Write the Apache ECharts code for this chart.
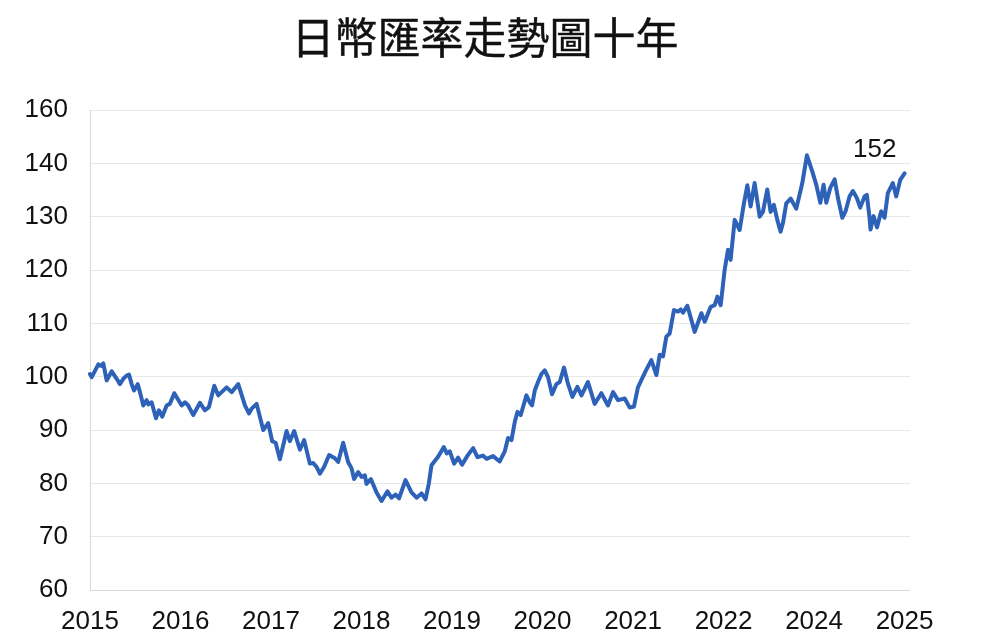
<!DOCTYPE html>
<html>
<head>
<meta charset="utf-8">
<script src="https://cdn.jsdelivr.net/npm/echarts@6/dist/echarts.min.js"></script>
<style>
html,body{margin:0;padding:0;background:#fff;}
#chart{width:994px;height:644px;}
</style>
</head>
<body>
<div id="chart"></div>
<script>
// ---- data ----
var titleText = '日幣匯率走勢圖十年';
var xTickLabels = ['2015','2016','2017','2018','2019','2020','2021','2022','2024','2025'];
var yTickLabels = ['60','70','80','90','100','110','120','130','140','160'];
var annotationText = '152';

// position along the x axis (0 = 2015 label, 9 = 2025 label)
var yearPos = [
0.000,0.019,0.092,0.129,0.147,0.184,0.240,0.295,0.331,0.368,0.405,0.431,0.460,0.486,0.527,0.552,0.589,0.626,0.644,0.681,
0.729,0.762,0.798,0.847,0.883,0.931,1.013,1.049,1.085,1.141,1.215,1.270,1.314,1.373,1.417,1.454,1.510,1.565,1.638,1.712,
1.756,1.786,1.841,1.914,1.969,2.013,2.051,2.098,2.172,2.208,2.256,2.319,2.366,2.429,2.466,2.503,2.540,2.587,2.642,2.705,
2.742,2.797,2.852,2.890,2.918,2.963,3.000,3.037,3.055,3.103,3.166,3.221,3.287,3.331,3.376,3.415,3.486,3.552,3.608,3.663,
3.707,3.743,3.773,3.846,3.909,3.942,3.975,4.023,4.067,4.111,4.171,4.233,4.281,4.343,4.381,4.453,4.527,4.583,4.619,4.657,
4.693,4.723,4.759,4.822,4.859,4.884,4.914,4.950,4.988,5.024,5.061,5.105,5.153,5.190,5.237,5.282,5.330,5.385,5.430,5.502,
5.576,5.650,5.723,5.779,5.834,5.908,5.963,6.010,6.054,6.110,6.147,6.202,6.258,6.294,6.331,6.368,6.405,6.452,6.496,6.526,
6.552,6.600,6.645,6.681,6.755,6.792,6.858,6.902,6.932,6.968,7.012,7.049,7.078,7.123,7.178,7.225,7.263,7.299,7.343,7.399,
7.435,7.483,7.520,7.556,7.594,7.630,7.656,7.693,7.741,7.804,7.870,7.921,7.980,8.024,8.069,8.105,8.135,8.179,8.227,8.264,
8.312,8.348,8.392,8.429,8.473,8.510,8.558,8.583,8.613,8.624,8.657,8.696,8.742,8.779,8.815,8.870,8.908,8.952,9.000
];
var rate = [
100.5,99.9,102.3,102.0,102.5,99.3,101.0,99.6,98.6,99.6,100.2,100.4,98.6,97.4,98.6,97.1,94.6,95.6,94.8,95.2,
92.2,93.7,92.5,94.6,94.9,96.9,94.6,95.2,94.6,92.8,95.1,93.7,94.3,98.3,96.5,97.1,98.0,97.1,98.6,94.6,
93.1,94.0,94.9,90.0,91.3,87.9,87.6,84.5,89.8,87.9,89.8,86.3,88.1,83.7,83.8,83.1,81.8,83.1,85.3,84.7,
84.0,87.6,84.0,82.8,80.8,82.1,81.2,81.5,79.9,80.8,78.3,76.7,78.5,77.3,77.9,77.2,80.6,78.3,77.3,78.1,
77.0,79.9,83.4,85.0,86.8,85.6,86.0,83.7,84.8,83.5,85.2,86.6,84.9,85.2,84.6,85.1,84.1,86.0,88.5,88.1,
91.5,93.4,92.8,96.5,95.2,94.6,97.4,99.0,100.5,101.2,99.9,96.7,98.6,99.0,101.7,98.6,96.2,98.1,96.5,99.0,
94.9,96.9,94.6,97.1,95.6,95.9,94.2,94.4,98.0,100.0,101.3,103.1,100.3,104.1,103.8,107.5,108.1,112.5,112.2,112.6,
112.0,113.3,110.6,108.4,111.9,110.3,113.1,113.4,115.0,113.4,120.0,123.8,121.9,129.4,127.5,132.5,135.9,131.9,136.3,130.0,
130.9,135.1,130.9,132.2,129.4,127.2,128.8,132.5,133.4,131.5,136.3,141.5,138.5,136.0,132.6,136.0,132.6,135.4,137.0,133.5,
129.8,131.0,133.8,134.8,133.5,131.7,133.8,134.1,129.8,127.6,130.1,128.0,131.0,129.8,134.4,136.3,133.8,136.9,138.1
];

var seriesData = yearPos.map(function (p, i) { return [p, rate[i]]; });

var chart = echarts.init(document.getElementById('chart'));
chart.setOption({
  animation: false,
  backgroundColor: '#ffffff',
  title: {
    text: titleText,
    left: 480,
    textAlign: 'center',
    top: 11,
    textStyle: {
      fontFamily: '"Noto Sans CJK TC", "Noto Sans CJK SC", sans-serif',
      fontSize: 43,
      fontWeight: 'normal',
      color: '#111111',
      textBorderColor: '#111111',
      textBorderWidth: 0.4
    }
  },
  grid: { left: 90, right: 84, top: 110, bottom: 54, containLabel: false },
  xAxis: {
    type: 'value',
    min: 0,
    max: 9.06,
    interval: 1,
    axisLine: { show: true, lineStyle: { color: '#d9d9d9', width: 1 } },
    axisTick: { show: false },
    splitLine: { show: false },
    axisLabel: {
      margin: 19,
      fontFamily: '"Liberation Sans", Arial, sans-serif',
      fontSize: 26,
      color: '#111111',
      showMaxLabel: false,
      formatter: function (v) {
        var k = Math.round(v);
        if (Math.abs(v - k) > 1e-6) return '';
        return xTickLabels[k] || '';
      }
    }
  },
  yAxis: {
    type: 'value',
    min: 60,
    max: 150,
    interval: 10,
    axisLine: { show: true, lineStyle: { color: '#d9d9d9', width: 1 } },
    axisTick: { show: false },
    splitLine: { show: true, lineStyle: { color: '#e8e8e8', width: 1 } },
    axisLabel: {
      margin: 22,
      fontFamily: '"Liberation Sans", Arial, sans-serif',
      fontSize: 26,
      color: '#111111',
      formatter: function (v) {
        var k = Math.round((v - 60) / 10);
        return yTickLabels[k] || '';
      }
    }
  },
  graphic: [{
    type: 'text',
    left: 853,
    top: 137,
    style: {
      text: annotationText,
      fontFamily: '"Liberation Sans", Arial, sans-serif',
      fontSize: 26,
      fill: '#111111'
    }
  }],
  series: [{
    type: 'line',
    data: seriesData,
    showSymbol: false,
    symbol: 'none',
    smooth: false,
    lineStyle: { color: '#2d62b8', width: 4, join: 'round', cap: 'round' },
    z: 3
  }]
});
</script>
</body>
</html>
